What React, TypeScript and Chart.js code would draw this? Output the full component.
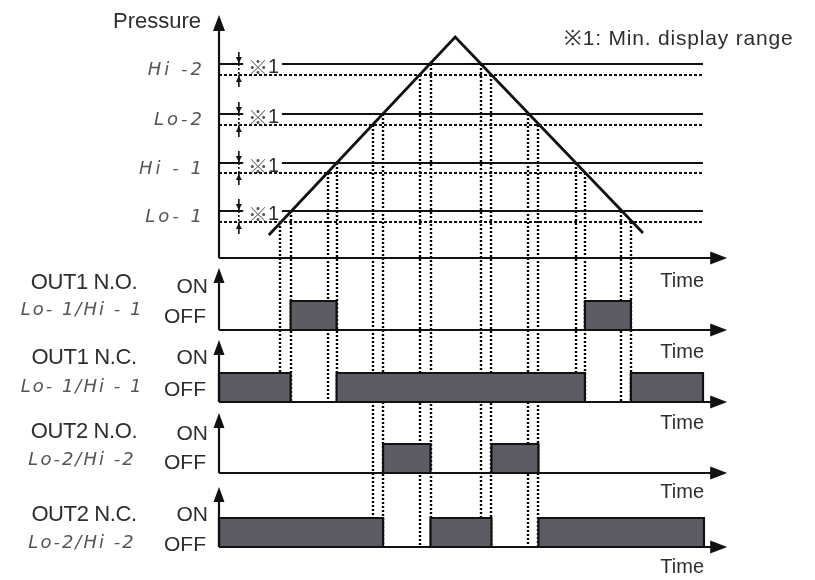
import React, { useEffect, useRef } from "react";
import { Chart, registerables } from "chart.js";

Chart.register(...registerables);

// ---------- data (time units 0..100, pressure units) ----------
const thresholdLabels = ["Hi -2", "Lo-2", "Hi - 1", "Lo- 1"];
const thresholdSet = [97, 72, 47.5, 23.5]; // solid lines
const thresholdReset = [91.5, 66.5, 42.5, 18]; // dotted lines (min. display range)
const pressureTime = [10.3, 48.8, 87.6];
const pressureValue = [11.5, 110.5, 12.5];

// crossing times of the pressure with the lines: [time, pressure, panel reached]
const crossTime = [12.7, 14.8, 22.5, 24.3, 31.8, 33.9, 41.6, 43.7, 54.1, 56.3, 63.9, 66.0, 73.7, 75.6, 83.0, 85.1];
const crossPressure = [18, 23.5, 42.5, 47.5, 66.5, 72, 91.5, 97, 97, 91.5, 72, 66.5, 47.5, 42.5, 23.5, 18];
const crossPanel = [1, 1, 1, 1, 3, 3, 3, 3, 3, 3, 3, 3, 1, 1, 1, 1];

const panelTitles = ["OUT1 N.O.", "OUT1 N.C.", "OUT2 N.O.", "OUT2 N.C."];
const panelSubs = ["Lo- 1/Hi - 1", "Lo- 1/Hi - 1", "Lo-2/Hi -2", "Lo-2/Hi -2"];
const out1NO = [[14.8, 24.3], [75.6, 85.1]];
const out1NC = [[0, 14.8], [24.3, 75.6], [85.1, 100]];
const out2NO = [[33.9, 43.7], [56.3, 66.0]];
const out2NC = [[0, 33.9], [43.7, 56.3], [66.0, 100.2]];
const outputs = [out1NO, out1NC, out2NO, out2NC];

const TIME_END = 105;
const PRESSURE_TOP = 121.5;
const LINE_END = 100;

// ---------- layout ----------
const W = 815;
const H = 580;
const ORIGIN_PX = 219;
const PX_PER_T = 4.84;
const P_BASE_PX = 258;
const PX_PER_P = 2;
const panelBasePx = [330, 402, 473, 547];
const panelOnPx = [301, 373, 444, 518];
const panelAxisTop = [2.14, 2.14, 2.07, 2.07];

const FILL = "#5c5c65";
const INK = "#111";
const TEXT = "#2e2e2e";
const SEG = "#555";

function panelRange(basePx: number, onPx: number) {
  const u = basePx - onPx;
  return { min: (basePx - H) / u, max: basePx / u };
}

function arrowHead(ctx: CanvasRenderingContext2D, x: number, y: number, dir: string, len: number, half: number) {
  ctx.beginPath();
  if (dir === "up") {
    ctx.moveTo(x, y);
    ctx.lineTo(x - half, y + len);
    ctx.lineTo(x + half, y + len);
  } else if (dir === "down") {
    ctx.moveTo(x, y);
    ctx.lineTo(x - half, y - len);
    ctx.lineTo(x + half, y - len);
  } else {
    ctx.moveTo(x, y);
    ctx.lineTo(x - len, y - half);
    ctx.lineTo(x - len, y + half);
  }
  ctx.closePath();
  ctx.fill();
}

const diagramPlugin = {
  id: "diagram",
  beforeDatasetsDraw(chart: any) {
    const ctx: CanvasRenderingContext2D = chart.ctx;
    const xs = chart.scales.x;
    const yP = chart.scales.yP;
    ctx.save();
    ctx.strokeStyle = "#000";
    ctx.lineWidth = 2.4;
    ctx.lineCap = "butt";
    ctx.setLineDash([2, 2]);
    crossTime.forEach((t, i) => {
      const x = Math.round(xs.getPixelForValue(t));
      const y0 = Math.round(yP.getPixelForValue(crossPressure[i]));
      const ps = chart.scales["y" + (crossPanel[i] + 1)];
      const y1 = Math.round(ps.getPixelForValue(0));
      ctx.beginPath();
      ctx.moveTo(x, y0);
      ctx.lineTo(x, y1);
      ctx.stroke();
    });
    ctx.restore();
  },
  afterDatasetsDraw(chart: any) {
    const ctx: CanvasRenderingContext2D = chart.ctx;
    const xs = chart.scales.x;
    const yP = chart.scales.yP;
    const x0 = xs.getPixelForValue(0);
    const xEnd = xs.getPixelForValue(TIME_END);
    ctx.save();
    ctx.fillStyle = INK;
    ctx.strokeStyle = INK;
    ctx.lineWidth = 2.2;
    ctx.setLineDash([]);

    // pressure axes
    const pb = yP.getPixelForValue(0);
    const pt = yP.getPixelForValue(PRESSURE_TOP);
    ctx.beginPath();
    ctx.moveTo(x0, pb);
    ctx.lineTo(x0, pt + 10);
    ctx.moveTo(x0, pb);
    ctx.lineTo(xEnd - 10, pb);
    ctx.stroke();
    arrowHead(ctx, x0, pt, "up", 16, 6);
    arrowHead(ctx, xEnd, pb, "right", 17, 6.5);

    // panel axes
    for (let k = 0; k < 4; k++) {
      const s = chart.scales["y" + (k + 1)];
      const b = s.getPixelForValue(0);
      const t = s.getPixelForValue(panelAxisTop[k]);
      ctx.beginPath();
      ctx.moveTo(x0, b);
      ctx.lineTo(x0, t + 10);
      ctx.moveTo(x0, b);
      ctx.lineTo(xEnd - 10, b);
      ctx.stroke();
      arrowHead(ctx, x0, t, "up", 15, 5.5);
      arrowHead(ctx, xEnd, b, "right", 17, 6.5);
    }

    // min display range markers
    const mx = xs.getPixelForValue(4.1);
    thresholdSet.forEach((s, i) => {
      const ys = yP.getPixelForValue(s);
      const yr = yP.getPixelForValue(thresholdReset[i]);
      ctx.lineWidth = 1.6;
      ctx.setLineDash([]);
      ctx.beginPath();
      ctx.moveTo(mx, ys - 12);
      ctx.lineTo(mx, ys);
      ctx.moveTo(mx, yr);
      ctx.lineTo(mx, yr + 12);
      ctx.stroke();
      ctx.setLineDash([2, 2]);
      ctx.beginPath();
      ctx.moveTo(mx, ys);
      ctx.lineTo(mx, yr);
      ctx.stroke();
      ctx.setLineDash([]);
      arrowHead(ctx, mx, ys - 1, "down", 6, 3);
      arrowHead(ctx, mx, yr + 1, "up", 6, 3);
    });

    // texts
    ctx.textBaseline = "middle";
    ctx.fillStyle = TEXT;
    ctx.font = '22px "Liberation Sans", Arial, sans-serif';
    ctx.textAlign = "right";
    ctx.fillText("Pressure", 201, 22);
    ctx.textAlign = "left";
    ctx.font = '21px "Liberation Sans", Arial, sans-serif';
    (ctx as any).letterSpacing = "0.8px";
    ctx.fillText("\u203B1: Min. display range", 564, 39);
    (ctx as any).letterSpacing = "0px";

    ctx.textAlign = "right";
    ctx.font = '20px "Liberation Sans", Arial, sans-serif';
    const timeY = [281, 352, 423, 492, 567];
    timeY.forEach((y) => ctx.fillText("Time", 704, y));

    // threshold labels (7-segment style)
    ctx.fillStyle = SEG;
    ctx.font = 'italic 18px "DejaVu Sans", sans-serif';
    (ctx as any).letterSpacing = "3px";
    thresholdSet.forEach((s, i) => {
      const ys = yP.getPixelForValue(s);
      const yr = yP.getPixelForValue(thresholdReset[i]);
      ctx.fillText(thresholdLabels[i], 205, (ys + yr) / 2 + 1);
    });
    (ctx as any).letterSpacing = "0px";

    // ※1 labels
    ctx.textAlign = "left";
    thresholdSet.forEach((s) => {
      const ys = yP.getPixelForValue(s);
      ctx.fillStyle = "#555";
      ctx.font = '20px "Noto Sans CJK JP", sans-serif';
      ctx.fillText("\u203B", 248, ys + 3);
      ctx.fillStyle = TEXT;
      ctx.font = '20px "Liberation Sans", Arial, sans-serif';
      ctx.fillText("1", 268, ys + 3);
    });

    // panel labels
    const titleY = [283, 358, 432, 515];
    const subY = [310, 387, 460, 543];
    const onY = [287, 358, 434, 515];
    const offY = [317, 390, 463, 545];
    for (let k = 0; k < 4; k++) {
      ctx.fillStyle = TEXT;
      ctx.textAlign = "center";
      ctx.font = '22px "Liberation Sans", Arial, sans-serif';
      (ctx as any).letterSpacing = "-0.4px";
      ctx.fillText(panelTitles[k], 84, titleY[k]);
      ctx.fillStyle = SEG;
      ctx.font = 'italic 18px "DejaVu Sans", sans-serif';
      (ctx as any).letterSpacing = "2px";
      ctx.fillText(panelSubs[k], 82, subY[k]);
      (ctx as any).letterSpacing = "0px";
      ctx.fillStyle = TEXT;
      ctx.textAlign = "right";
      ctx.font = '21px "Liberation Sans", Arial, sans-serif';
      ctx.fillText("ON", 208, onY[k]);
      ctx.fillText("OFF", 206, offY[k]);
    }
    ctx.restore();
  },
};

export default function App() {
  const ref = useRef<HTMLCanvasElement | null>(null);

  useEffect(() => {
    if (!ref.current) return;
    const datasets: any[] = [];

    thresholdSet.forEach((s) => {
      datasets.push({
        yAxisID: "yP",
        data: [
          { x: 0, y: s },
          { x: 5.0, y: s },
          { x: 9, y: null },
          { x: 13.0, y: s },
          { x: LINE_END, y: s },
        ],
        borderColor: INK,
        borderWidth: 2.2,
        spanGaps: false,
      });
    });
    thresholdReset.forEach((r) => {
      datasets.push({
        yAxisID: "yP",
        data: [
          { x: 0, y: r },
          { x: LINE_END, y: r },
        ],
        borderColor: INK,
        borderWidth: 2.2,
        borderDash: [3, 2],
      });
    });
    datasets.push({
      yAxisID: "yP",
      data: pressureTime.map((t, i) => ({ x: t, y: pressureValue[i] })),
      borderColor: INK,
      borderWidth: 2.8,
    });

    outputs.forEach((intervals, k) => {
      intervals.forEach(([a, b]) => {
        datasets.push({
          yAxisID: "y" + (k + 1),
          data: [
            { x: a, y: 0 },
            { x: a, y: 1 },
            { x: b, y: 1 },
            { x: b, y: 0 },
          ],
          borderColor: INK,
          borderWidth: 2.2,
          backgroundColor: FILL,
          fill: "origin",
        });
      });
    });

    const scales: any = {
      x: {
        type: "linear",
        display: false,
        min: -ORIGIN_PX / PX_PER_T,
        max: (W - ORIGIN_PX) / PX_PER_T,
      },
      yP: {
        type: "linear",
        axis: "y",
        display: false,
        min: (P_BASE_PX - H) / PX_PER_P,
        max: P_BASE_PX / PX_PER_P,
      },
    };
    for (let k = 0; k < 4; k++) {
      const r = panelRange(panelBasePx[k], panelOnPx[k]);
      scales["y" + (k + 1)] = { type: "linear", axis: "y", display: false, min: r.min, max: r.max };
    }

    const chart = new Chart(ref.current, {
      type: "scatter",
      data: { datasets },
      options: {
        animation: false,
        responsive: false,
        devicePixelRatio: 1,
        showLine: true,
        layout: { padding: 0, autoPadding: false },
        elements: { point: { radius: 0, hoverRadius: 0 }, line: { tension: 0, borderJoinStyle: "miter" } },
        plugins: { legend: { display: false }, tooltip: { enabled: false } },
        events: [],
        scales,
      } as any,
      plugins: [diagramPlugin],
    });
    return () => chart.destroy();
  }, []);

  return (
    <div style={{ position: "fixed", left: 0, top: 0, width: W, height: H, background: "#fff" }}>
      <canvas ref={ref} width={W} height={H} style={{ display: "block" }} />
    </div>
  );
}
